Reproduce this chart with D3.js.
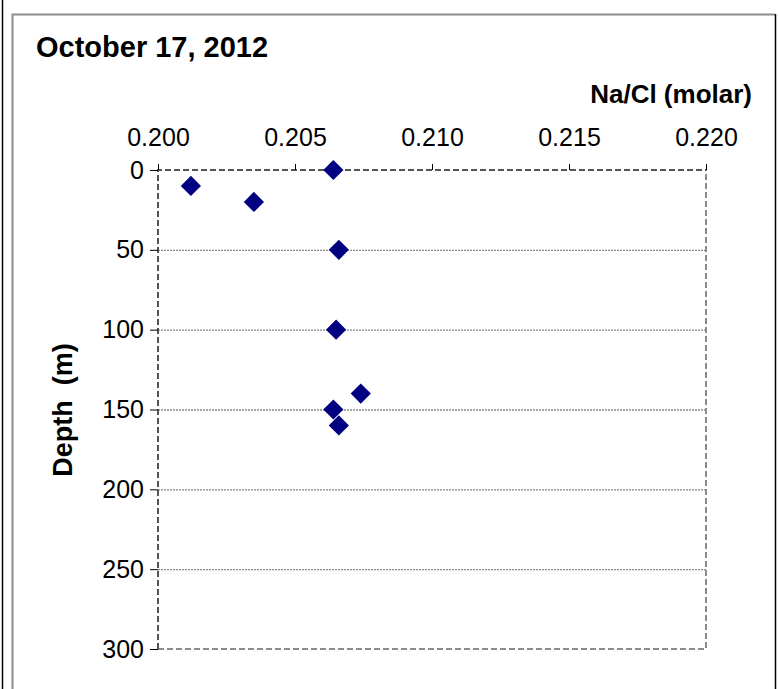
<!DOCTYPE html>
<html>
<head>
<meta charset="utf-8">
<script src="https://cdn.jsdelivr.net/npm/d3@7"></script>
<style>
  html, body { margin: 0; padding: 0; background: #fff; }
  svg { display: block; font-family: "Liberation Sans", Arial, sans-serif; }
</style>
</head>
<body>
<svg id="chart" width="778" height="689"></svg>
<script>
// ---- data ----
const naCl   = [0.2064, 0.2012, 0.2035, 0.2066, 0.2065, 0.2074, 0.2064, 0.2066];
const depth  = [0, 10, 20, 50, 100, 140, 150, 160];
const xTicks = [0.200, 0.205, 0.210, 0.215, 0.220];
const yTicks = [0, 50, 100, 150, 200, 250, 300];
const title  = "October 17, 2012";
const xTitle = "Na/Cl (molar)";
const yTitle = "Depth  (m)";

const svg = d3.select("#chart");

// page / frame lines
svg.append("line").attr("x1", 2.5).attr("x2", 2.5).attr("y1", 0).attr("y2", 689)
  .attr("stroke", "#000").attr("stroke-width", 1.5);
svg.append("path").attr("d", "M12.5,689 L12.5,14.5 L775,14.5")
  .attr("fill", "none").attr("stroke", "#8c8c8c").attr("stroke-width", 2);
svg.append("line").attr("x1", 775.5).attr("x2", 775.5).attr("y1", 14).attr("y2", 689)
  .attr("stroke", "#000").attr("stroke-width", 1.5);

const L = 158, R = 706, T = 170, B = 649;
const x = d3.scaleLinear().domain([0.200, 0.220]).range([L, R]);
const y = d3.scaleLinear().domain([0, 300]).range([T, B]);

// gridlines
svg.append("g").selectAll("line").data(yTicks.filter(d => d > 0 && d < 300)).join("line")
  .attr("x1", L).attr("x2", R).attr("y1", d => y(d) + 0.5).attr("y2", d => y(d) + 0.5)
  .attr("stroke", "#8a8a8a").attr("stroke-width", 1.3).attr("stroke-dasharray", "2,1");

// plot border (dashed)
svg.append("path").attr("d", `M${L},${B} L${R},${B} L${R},${T}`)
  .attr("fill", "none").attr("stroke", "#8c8c8c").attr("stroke-width", 2)
  .attr("stroke-dasharray", "6,3");
svg.append("path").attr("d", `M${L},${B} L${L},${T} L${R},${T}`)
  .attr("fill", "none").attr("stroke", "#555").attr("stroke-width", 2)
  .attr("stroke-dasharray", "6,3");

// x axis (top)
const xAxis = d3.axisTop(x).tickValues(xTicks).tickFormat(d3.format(".3f"))
  .tickSize(6).tickPadding(18);
const gx = svg.append("g").attr("transform", `translate(0,${T})`).call(xAxis);
gx.select(".domain").remove();
gx.selectAll(".tick line").attr("stroke", "#000").attr("stroke-width", 1);
gx.selectAll(".tick text").attr("font-size", 25).attr("fill", "#000")
  .attr("font-family", "Liberation Sans, Arial, sans-serif");

// y axis (left)
const yAxis = d3.axisLeft(y).tickValues(yTicks).tickSize(8).tickPadding(6);
const gy = svg.append("g").attr("transform", `translate(${L},0)`).call(yAxis);
gy.select(".domain").remove();
gy.selectAll(".tick line").attr("stroke", "#000").attr("stroke-width", 1);
gy.selectAll(".tick text").attr("font-size", 25).attr("fill", "#000")
  .attr("font-family", "Liberation Sans, Arial, sans-serif");

// points
const pts = naCl.map((v, i) => ({ v, d: depth[i] }));
const sym = d3.symbol().type(d3.symbolSquare).size(205);
svg.append("g").selectAll("path").data(pts).join("path")
  .attr("d", sym)
  .attr("transform", p => `translate(${x(p.v)},${y(p.d)}) rotate(45)`)
  .attr("fill", "#000080");

// titles
svg.append("text").attr("x", 36).attr("y", 57).attr("font-size", 29)
  .attr("font-weight", "bold").text(title);
svg.append("text").attr("x", 752).attr("y", 103).attr("font-size", 26)
  .attr("font-weight", "bold").attr("text-anchor", "end").text(xTitle);
svg.append("text").attr("transform", "translate(72,410) rotate(-90)")
  .attr("font-size", 27).attr("font-weight", "bold").attr("text-anchor", "middle")
  .style("white-space", "pre").text(yTitle);
</script>
</body>
</html>
